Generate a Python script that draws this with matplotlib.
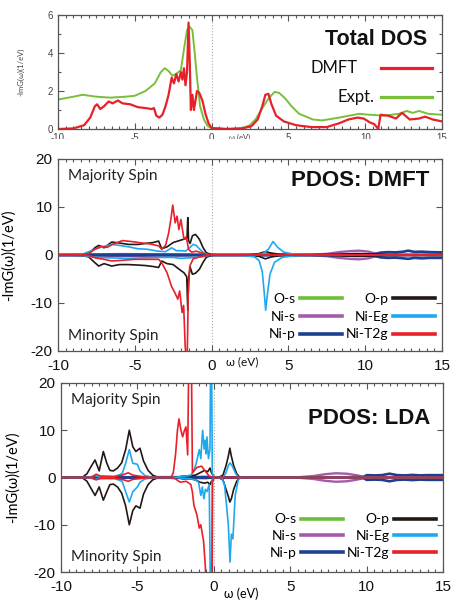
import matplotlib
matplotlib.use("Agg")
import matplotlib.pyplot as plt
import numpy as np
from matplotlib.ticker import MultipleLocator
from matplotlib.lines import Line2D
from matplotlib.patches import Rectangle

plt.rcParams["axes.unicode_minus"] = False
plt.rcParams["font.family"] = ["Liberation Sans", "DejaVu Sans"]

SOFT = ["Lato", "DejaVu Sans"]

########### DATA ###########
# total DOS, (omega, -ImG)
tot_dmft = [(-10, 0), (-9, 0.03), (-8.3, 0.2), (-7.9, 0.6), (-7.6, 1.2), (-7.45, 1.3), (-7.25, 1.05),
            (-7.0, 1.2), (-6.7, 1.45), (-6.45, 1.35), (-6.1, 1.5), (-5.8, 1.35), (-5.3, 1.3), (-4.8, 1.15),
            (-4.3, 1.1), (-3.9, 1.05), (-3.75, 1.1), (-3.6, 0.7), (-3.4, 0.6), (-3.2, 0.75), (-3.0, 1.2),
            (-2.8, 1.8), (-2.6, 2.7), (-2.45, 2.4), (-2.3, 2.9), (-2.15, 2.5), (-2.0, 3.0), (-1.9, 2.6),
            (-1.8, 3.2), (-1.7, 2.3), (-1.6, 3.0), (-1.5, 5.6), (-1.42, 3.5), (-1.35, 1.0), (-1.25, 1.8),
            (-1.15, 1.0), (-1.05, 1.5), (-0.95, 2.0), (-0.8, 1.9), (-0.6, 1.5), (-0.4, 0.8), (-0.2, 0.3),
            (0, 0.05), (1, 0), (2, 0.03), (2.6, 0.15), (3.0, 0.5), (3.3, 1.2), (3.5, 1.8), (3.7, 1.85),
            (3.9, 1.3), (4.2, 0.7), (4.7, 0.4), (5.5, 0.2), (6.5, 0.1), (7.5, 0.1), (8.3, 0.3), (8.9, 0.5),
            (9.5, 0.6), (9.9, 0.55), (10.3, 0.35), (10.6, 0.25), (10.75, 0.1), (10.85, 0), (11.0, 0.75),
            (11.5, 0.7), (12.0, 0.55), (12.4, 0.85), (12.9, 0.5), (13.5, 0.55), (13.9, 0.65), (14.4, 0.5),
            (15, 0.4)]
tot_expt = [(-10, 1.55), (-9, 1.7), (-8.4, 1.8), (-7.5, 1.7), (-6.6, 1.65), (-5.6, 1.7), (-5.0, 1.75),
            (-4.3, 2.0), (-3.7, 2.4), (-3.3, 3.0), (-3.05, 3.2), (-2.8, 3.05), (-2.55, 2.8), (-2.3, 2.9),
            (-2.0, 3.1), (-1.8, 4.2), (-1.6, 5.2), (-1.45, 5.4), (-1.25, 5.2), (-1.1, 4.0), (-0.95, 2.7),
            (-0.75, 1.2), (-0.5, 0.5), (-0.25, 0.15), (0, 0.05), (1, 0), (2, 0.05), (2.5, 0.2), (2.9, 0.55),
            (3.3, 1.1), (3.7, 1.6), (4.1, 1.95), (4.4, 1.9), (4.8, 1.6), (5.2, 1.2), (5.7, 0.8), (6.6, 0.5),
            (7.2, 0.45), (8.3, 0.6), (9.6, 0.8), (10.3, 0.75), (11.2, 0.7), (12.2, 0.8), (12.7, 0.95),
            (13.1, 0.85), (13.5, 0.95), (14.1, 0.8), (15, 0.75)]

# PDOS: DMFT, majority (up) and minority (dn)
dmft_os_up = [(-10, 0), (-8, 0.05), (-6, 0.1), (-4, 0.05), (-2, 0.1), (0, 0), (15, 0)]
dmft_os_dn = [(-10, 0), (-8, -0.05), (-6, -0.1), (-4, -0.05), (-2, -0.1), (0, 0), (15, 0)]
dmft_nis_up = [(-10, 0), (-8, 0.1), (-6, 0.2), (-4, 0.15), (-2, 0.1), (0, 0), (5, 0), (6.5, 0.05),
               (7.5, 0.25), (8.3, 0.6), (9.0, 0.8), (9.6, 0.9), (10.2, 0.7), (10.6, 0.35), (11, 0.1),
               (12, 0.05), (15, 0.05)]
dmft_nis_dn = [(-10, 0), (-8, -0.1), (-6, -0.2), (-4, -0.15), (-2, -0.1), (0, 0), (5, 0), (6.5, -0.05),
               (7.5, -0.25), (8.3, -0.6), (9.0, -0.8), (9.6, -0.9), (10.2, -0.7), (10.6, -0.35), (11, -0.1),
               (12, -0.05), (15, -0.05)]
dmft_nip_up = [(-10, 0), (-6, 0.05), (0, 0), (9, 0.05), (10.5, 0.1), (11, 0.5), (11.5, 0.6), (12, 0.55),
               (12.5, 0.7), (12.8, 0.9), (13.2, 0.65), (13.7, 0.7), (14.2, 0.6), (15, 0.55)]
dmft_nip_dn = [(-10, 0), (-6, -0.05), (0, 0), (9, -0.05), (10.5, -0.1), (11, -0.5), (11.5, -0.6),
               (12, -0.55), (12.5, -0.7), (12.8, -0.8), (13.2, -0.6), (13.7, -0.7), (14.2, -0.6), (15, -0.6)]
dmft_op_up = [(-10, 0), (-8.5, 0.05), (-8.0, 0.3), (-7.6, 1.5), (-7.35, 2.0), (-7.0, 1.5), (-6.5, 2.7),
              (-6.0, 2.5), (-5.4, 2.2), (-4.8, 2.2), (-4.3, 2.4), (-3.8, 2.6), (-3.45, 2.9), (-3.25, 1.3),
              (-2.9, 1.7), (-2.5, 2.6), (-2.1, 3.0), (-1.8, 3.3), (-1.6, 3.5), (-1.55, 7.8), (-1.5, 3.0),
              (-1.4, 2.4), (-1.25, 4.0), (-1.05, 4.3), (-0.8, 3.3), (-0.55, 1.5), (-0.35, 0.5), (0, 0.05),
              (1, 0), (2.5, 0.05), (3.1, 0.3), (3.5, 0.7), (3.9, 0.4), (4.4, 0.15), (5.5, 0.05), (7.5, 0.05),
              (8.5, 0.2), (9.5, 0.3), (10.5, 0.2), (11, 0.1), (15, 0.1)]
dmft_op_dn = [(-10, 0), (-8.5, -0.05), (-8.0, -0.4), (-7.6, -1.6), (-7.35, -2.3), (-7.0, -1.8),
              (-6.5, -2.3), (-6.0, -2.0), (-5.4, -2.0), (-4.8, -2.1), (-4.3, -2.2), (-3.8, -2.4),
              (-3.45, -2.6), (-3.25, -1.25), (-2.9, -1.8), (-2.5, -2.0), (-2.1, -3.0), (-1.8, -3.7),
              (-1.62, -4.5), (-1.55, -11.5), (-1.5, -5), (-1.4, -2.5), (-1.25, -4.0), (-1.05, -3.8),
              (-0.8, -3.0), (-0.55, -1.5), (-0.35, -0.5), (0, -0.05), (1, 0), (2.5, -0.05), (3.1, -0.3),
              (3.5, -0.8), (3.9, -0.4), (4.4, -0.15), (5.5, -0.05), (7.5, -0.05), (8.5, -0.2), (9.5, -0.3),
              (10.5, -0.2), (11, -0.1), (15, -0.1)]
dmft_eg_up = [(-10, 0), (-9, 0.05), (-8.3, 0.3), (-7.6, 1.2), (-7.0, 1.8), (-6.5, 2.2), (-6.0, 2.0),
              (-5.4, 1.7), (-4.8, 1.3), (-4.2, 1.2), (-3.5, 0.8), (-3.0, 0.7), (-2.6, 1.5), (-2.3, 0.9),
              (-2.0, 0.9), (-1.7, 0.8), (-1.43, 1.5), (-1.2, 2.2), (-1.0, 2.0), (-0.8, 1.3), (-0.5, 0.4),
              (-0.2, 0.1), (0, 0), (2.5, 0), (3.3, 0.2), (3.7, 1.2), (4.0, 2.8), (4.3, 1.6), (4.7, 0.6),
              (5.3, 0.2), (6.5, 0.05), (15, 0)]
dmft_eg_dn = [(-10, 0), (-8.5, -0.1), (-7.5, -0.5), (-6.5, -0.6), (-5.5, -0.7), (-4.5, -0.6), (-3.5, -0.5),
              (-2.5, -0.5), (-2.0, -0.7), (-1.5, -0.6), (-1.0, -0.5), (-0.5, -0.3), (0, 0), (2.0, -0.05),
              (2.8, -0.4), (3.1, -1.2), (3.3, -3.5), (3.43, -8), (3.52, -11.5), (3.62, -8.5), (3.8, -4),
              (4.1, -1.5), (4.6, -0.5), (5.5, -0.1), (7, 0), (15, 0)]
dmft_t2g_up = [(-10, 0), (-8.5, 0.05), (-8.0, 0.3), (-7.6, 1.2), (-7.2, 1.8), (-6.8, 1.6), (-6.4, 2.3),
               (-5.8, 3.0), (-5.2, 2.8), (-4.75, 2.6), (-4.0, 2.3), (-3.45, 1.9), (-3.25, 1.2), (-3.0, 2.0),
               (-2.8, 4.5), (-2.65, 7.5), (-2.53, 10.4), (-2.37, 6.7), (-2.25, 8.1), (-2.13, 5.3), (-2.0, 7.4),
               (-1.8, 3.3), (-1.65, 3.8), (-1.5, 1.2), (-1.3, 0.6), (-1.0, 0.8), (-0.7, 0.5), (-0.3, 0.15),
               (0, 0), (15, 0)]
dmft_t2g_dn = [(-10, 0), (-8.0, -0.1), (-7.57, -0.6), (-7.0, -0.9), (-6.5, -1.25), (-5.8, -1.1), (-5.0, -0.9),
               (-4.3, -0.9), (-3.45, -0.9), (-3.25, -1.6), (-2.9, -3.7), (-2.6, -6.6), (-2.4, -7.8),
               (-2.2, -9.2), (-2.08, -7.5), (-1.92, -12), (-1.82, -10.5), (-1.72, -19), (-1.6, -24),
               (-1.52, -8), (-1.42, -2.3), (-1.2, -0.8), (-0.8, -0.4), (-0.3, -0.1), (0, 0), (15, 0)]

# PDOS: LDA
lda_os_up = [(-10, 0), (-8, 0.05), (-5.5, 0.1), (-2, 0.1), (-0.5, 0.3), (0, 0), (15, 0)]
lda_os_dn = [(-10, 0), (-8, -0.05), (-5.5, -0.1), (-2, -0.1), (-0.5, -0.3), (0, 0), (15, 0)]
lda_nis_up = [(-10, 0), (-8, 0.05), (-5, 0.1), (-2, 0.1), (0, 0), (4, 0), (5.5, 0.05), (6.5, 0.3),
              (7.3, 0.7), (8.0, 0.9), (8.7, 0.8), (9.3, 0.5), (9.8, 0.15), (10.2, 0.05), (15, 0.05)]
lda_nis_dn = [(-10, 0), (-8, -0.05), (-5, -0.1), (-2, -0.1), (0, 0), (4, 0), (5.5, -0.05), (6.5, -0.3),
              (7.3, -0.7), (8.0, -0.9), (8.7, -0.8), (9.3, -0.5), (9.8, -0.15), (10.2, -0.05), (15, -0.05)]
lda_nip_up = [(-10, 0), (0, 0), (9, 0.05), (9.8, 0.1), (10.0, 0.5), (10.5, 0.45), (11.0, 0.5), (11.5, 0.8),
              (12.0, 0.5), (12.5, 0.45), (13.0, 0.55), (13.5, 0.45), (14, 0.5), (15, 0.5)]
lda_nip_dn = [(-10, 0), (0, 0), (9, -0.05), (9.8, -0.1), (10.0, -0.5), (10.5, -0.45), (11.0, -0.5),
              (11.5, -0.8), (12.0, -0.5), (12.5, -0.45), (13.0, -0.55), (13.5, -0.45), (14, -0.5), (15, -0.5)]
lda_op_up = [(-10, 0), (-8.6, 0.05), (-8.3, 0.8), (-8.0, 2.5), (-7.77, 3.7), (-7.5, 1.4), (-7.23, 5.5),
             (-7.0, 3.0), (-6.8, 1.5), (-6.57, 1.4), (-6.3, 2.0), (-6.03, 3.1), (-5.77, 5.9), (-5.53, 10.0),
             (-5.3, 6.5), (-5.1, 5.5), (-4.83, 6.2), (-4.6, 3.5), (-4.3, 1.5), (-4.0, 0.5), (-3.7, 0.1),
             (-3.3, 0), (-2.5, 0), (-2.0, 0.3), (-1.5, 0.4), (-1.2, 0.5), (-0.9, 1.0), (-0.6, 1.5),
             (-0.4, 1.2), (-0.25, 2.0), (-0.15, 1.0), (0, 0.2), (0.3, 0), (0.6, 0.5), (0.8, 2.5),
             (0.95, 4.5), (1.05, 6.2), (1.15, 4.5), (1.3, 2.5), (1.5, 0.8), (1.7, 0), (15, 0)]
lda_op_dn = [(-10, 0), (-8.6, -0.05), (-8.3, -0.8), (-8.0, -2.5), (-7.77, -3.8), (-7.5, -2.0), (-7.23, -4.8),
             (-7.0, -3.0), (-6.8, -1.5), (-6.57, -1.4), (-6.3, -2.0), (-6.03, -3.3), (-5.77, -6.0),
             (-5.53, -10.0), (-5.3, -7.0), (-5.1, -6.0), (-4.83, -6.5), (-4.6, -3.5), (-4.3, -1.5),
             (-4.0, -0.5), (-3.7, -0.1), (-3.3, 0), (-2.5, 0), (-2.0, -0.3), (-1.5, -0.3), (-1.2, -0.5),
             (-0.9, -1.0), (-0.6, -1.2), (-0.4, -1.0), (-0.25, -1.5), (-0.15, -0.8), (0, -0.2), (0.3, 0),
             (0.6, -0.5), (0.8, -2.5), (0.95, -4.0), (1.05, -5.2), (1.15, -4.5), (1.3, -2.5), (1.5, -0.8),
             (1.7, 0), (15, 0)]
lda_eg_up = [(-10, 0), (-8.2, 0), (-7.8, 0.4), (-7.5, 0.2), (-6.5, 0.2), (-6.0, 0.8), (-5.77, 3.0),
             (-5.53, 5.9), (-5.3, 3.0), (-5.0, 2.8), (-4.83, 1.4), (-4.5, 0.4), (-4.0, 0), (-2.5, 0),
             (-2.2, 0.2), (-1.8, 0.3), (-1.5, 0.5), (-1.3, 1.5), (-1.15, 3.0), (-0.95, 5.9), (-0.85, 4.0),
             (-0.73, 10.0), (-0.63, 6.0), (-0.56, 7.9), (-0.5, 5.0), (-0.45, 8.6), (-0.35, 4.0), (-0.25, 6.0),
             (-0.2, 30), (-0.15, 30), (-0.1, 1.0), (0, 0), (0.6, 0), (0.8, 1.0), (0.95, 2.5), (1.06, 3.1),
             (1.2, 2.5), (1.4, 1.0), (1.6, 0), (15, 0)]
lda_eg_dn = [(-10, 0), (-8.2, 0), (-7.8, -0.4), (-7.5, -0.2), (-6.5, -0.2), (-6.0, -0.8), (-5.77, -3.0),
             (-5.53, -5.2), (-5.3, -3.0), (-5.0, -2.0), (-4.83, -1.0), (-4.5, -0.3), (-4.0, 0), (-2.5, 0),
             (-2.0, -0.2), (-1.5, -0.3), (-1.2, -0.5), (-1.0, -1.0), (-0.85, -3.8), (-0.75, -2.0),
             (-0.65, -4.5), (-0.55, -2.5), (-0.45, -3.0), (-0.3, -1.5), (-0.2, -30), (-0.15, -30),
             (-0.1, -0.5), (0, 0), (0.5, 0), (0.7, -1.5), (0.85, -6.5), (0.95, -10), (1.06, -17.9),
             (1.15, -12), (1.25, -13), (1.4, -3.8), (1.6, -0.5), (1.8, 0), (15, 0)]
lda_t2g_up = [(-10, 0), (-8.0, 0), (-7.7, 0.7), (-7.4, 0.3), (-6.5, 0.2), (-6.0, 0.5), (-5.6, 1.0),
              (-5.3, 0.5), (-4.5, 0.1), (-4, 0), (-2.8, 0), (-2.65, 1.0), (-2.5, 5.0), (-2.38, 10.0),
              (-2.28, 12.4), (-2.15, 10.0), (-2.04, 8.6), (-1.92, 10.0), (-1.82, 10.7), (-1.71, 4.8),
              (-1.62, 30), (-1.48, 30), (-1.4, 1.0), (-1.12, 2.1), (-0.8, 2.4), (-0.48, 1.0), (-0.3, 0.3),
              (0, 0), (15, 0)]
lda_t2g_dn = [(-10, 0), (-8.0, 0), (-7.7, -0.5), (-7.4, -0.2), (-6.5, -0.2), (-6.0, -0.4), (-5.6, -0.8),
              (-5.3, -0.4), (-4.5, -0.1), (-4, 0), (-2.8, 0), (-2.5, -0.3), (-2.2, -1.0), (-1.8, -0.8),
              (-1.5, -1.5), (-1.4, -3.1), (-1.3, -5.9), (-1.1, -8.0), (-0.95, -10.7), (-0.85, -10.0),
              (-0.75, -12.0), (-0.67, -13.4), (-0.55, -19.0), (-0.5, -30), (-0.12, -30), (-0.08, -1.0),
              (0, 0), (15, 0)]

orbitals = ["O-s", "Ni-s", "Ni-p", "O-p", "Ni-Eg", "Ni-T2g"]
dmft_curves = [(dmft_os_up, dmft_os_dn), (dmft_nis_up, dmft_nis_dn), (dmft_nip_up, dmft_nip_dn),
               (dmft_op_up, dmft_op_dn), (dmft_eg_up, dmft_eg_dn), (dmft_t2g_up, dmft_t2g_dn)]
lda_curves = [(lda_os_up, lda_os_dn), (lda_nis_up, lda_nis_dn), (lda_nip_up, lda_nip_dn),
              (lda_op_up, lda_op_dn), (lda_eg_up, lda_eg_dn), (lda_t2g_up, lda_t2g_dn)]
###################################################

ORB_COLORS = ["#6cbd3a", "#a35bab", "#1c3f91", "#231815", "#1ea9ee", "#e8202a"]
ORB_LW = [1.1, 1.7, 1.9, 1.2, 1.2, 1.2]
RED = "#e8202a"
GREEN = "#79bf3c"
SPINE = "#555555"


def xy(points):
    arr = np.array(points, dtype=float)
    return arr[:, 0], arr[:, 1]


def base_style(ax, label_size, label_color):
    ax.set_xlim(-10, 15)
    ax.xaxis.set_major_locator(MultipleLocator(5))
    ax.xaxis.set_minor_locator(MultipleLocator(0.5))
    ax.tick_params(which="both", direction="in", top=True, right=True, colors=SPINE,
                   labelcolor=label_color, labelsize=label_size, width=0.8)
    ax.tick_params(which="major", length=4)
    ax.tick_params(which="minor", length=2)
    for s in ax.spines.values():
        s.set_color(SPINE)
        s.set_linewidth(0.9)
    ax.axvline(0, color="#aaaaaa", ls=":", lw=0.8, zorder=0)


def pdos_panel(ax, curves, title, title_y, legend_y, spacing):
    base_style(ax, 11, "#111111")
    ax.set_ylim(-20, 20)
    ax.yaxis.set_major_locator(MultipleLocator(10))
    ax.tick_params(axis="y", pad=4)
    ax.tick_params(axis="x", pad=6)
    ax.axhline(0, color="#cccccc", lw=0.5, zorder=0)
    handles = []
    for name, (up, dn), c, lw in zip(orbitals, curves, ORB_COLORS, ORB_LW):
        ax.plot(*xy(up), color=c, lw=lw, solid_joinstyle="round")
        ax.plot(*xy(dn), color=c, lw=lw, solid_joinstyle="round")
        handles.append(Line2D([], [], color=c, lw=2.6))
    ax.set_ylabel("-ImG(\u03c9)(1/eV)", fontsize=10.5, family=SOFT)
    ax.text(0.027, 0.91, "Majority Spin", transform=ax.transAxes, fontsize=11,
            family=SOFT, color="#222222", va="center", ha="left")
    ax.text(0.027, 0.08, "Minority Spin", transform=ax.transAxes, fontsize=11,
            family=SOFT, color="#222222", va="center", ha="left")
    ax.text(0.967, title_y, title, transform=ax.transAxes, fontsize=16,
            fontweight="bold", color="#111111", va="center", ha="right")
    ax.legend(handles, orbitals, ncol=2, markerfirst=False, frameon=False,
              loc="lower right", bbox_to_anchor=(0.982, legend_y),
              prop=dict(family=SOFT, size=10), handlelength=3.0, handletextpad=0.35,
              columnspacing=0.3, labelspacing=spacing, borderpad=0, borderaxespad=0)


fig = plt.figure(figsize=(4.53, 6.03), dpi=100)
ax_top = fig.add_axes([58 / 453, 1 - 129 / 603, 384 / 453, 114 / 603])
ax_mid = fig.add_axes([58 / 453, 1 - 351 / 603, 384 / 453, 192 / 603])
ax_bot = fig.add_axes([61 / 453, 1 - 572 / 603, 382 / 453, 189 / 603])

# ---- total DOS ----
base_style(ax_top, 7, "#444444")
ax_top.set_ylim(0, 6)
ax_top.yaxis.set_major_locator(MultipleLocator(2))
ax_top.yaxis.set_minor_locator(MultipleLocator(1))
ax_top.tick_params(axis="x", pad=3)
ax_top.plot(*xy(tot_expt), color=GREEN, lw=1.4)
ax_top.plot(*xy(tot_dmft), color=RED, lw=1.6)
ax_top.set_ylabel("-ImG(\u03c9)(1/eV)", fontsize=5.5, color="#444444", family=SOFT)
ax_top.yaxis.set_label_coords(-0.086, 0.5)
ax_top.text(0.961, 0.785, "Total DOS", transform=ax_top.transAxes, fontsize=15.5,
            fontweight="bold", color="#111111", va="center", ha="right")
ax_top.text(1.85, -0.28, "\u03c9 (eV)", fontsize=5.5, color="#444444", family=SOFT,
            ha="center", va="top")
for label, color, ly, tx in [("DMFT", RED, 0.535, 0.78), ("Expt.", GREEN, 0.28, 0.825)]:
    ax_top.text(tx, ly, label, transform=ax_top.transAxes, fontsize=12, family=SOFT,
                color="#111111", va="center", ha="right")
    ax_top.plot([0.842, 0.975], [ly, ly], transform=ax_top.transAxes, color=color, lw=2.3)

# ---- PDOS panels ----
pdos_panel(ax_mid, dmft_curves, "PDOS: DMFT", 0.89, 0.055, 0.42)
ax_mid.yaxis.set_label_coords(-0.11, 0.5)
ax_mid.text(2.0, -21.1, "\u03c9 (eV)", fontsize=8.5, family=SOFT, color="#111111",
            ha="center", va="top")

pdos_panel(ax_bot, lda_curves, "PDOS: LDA", 0.812, 0.068, 0.35)
ax_bot.yaxis.set_label_coords(-0.107, 0.5)
ax_bot.set_xlabel("\u03c9 (eV)", fontsize=9, family=SOFT, va="center")
ax_bot.xaxis.set_label_coords((241 - 61) / 382, (572 - 594) / 189)

# the source figure is cropped just under the top panel's tick labels
fig.patches.append(Rectangle((0, 1 - 150 / 603), 1, 11 / 603, transform=fig.transFigure,
                             facecolor="white", edgecolor="none", zorder=10))

fig.savefig("out.png", dpi=100)
